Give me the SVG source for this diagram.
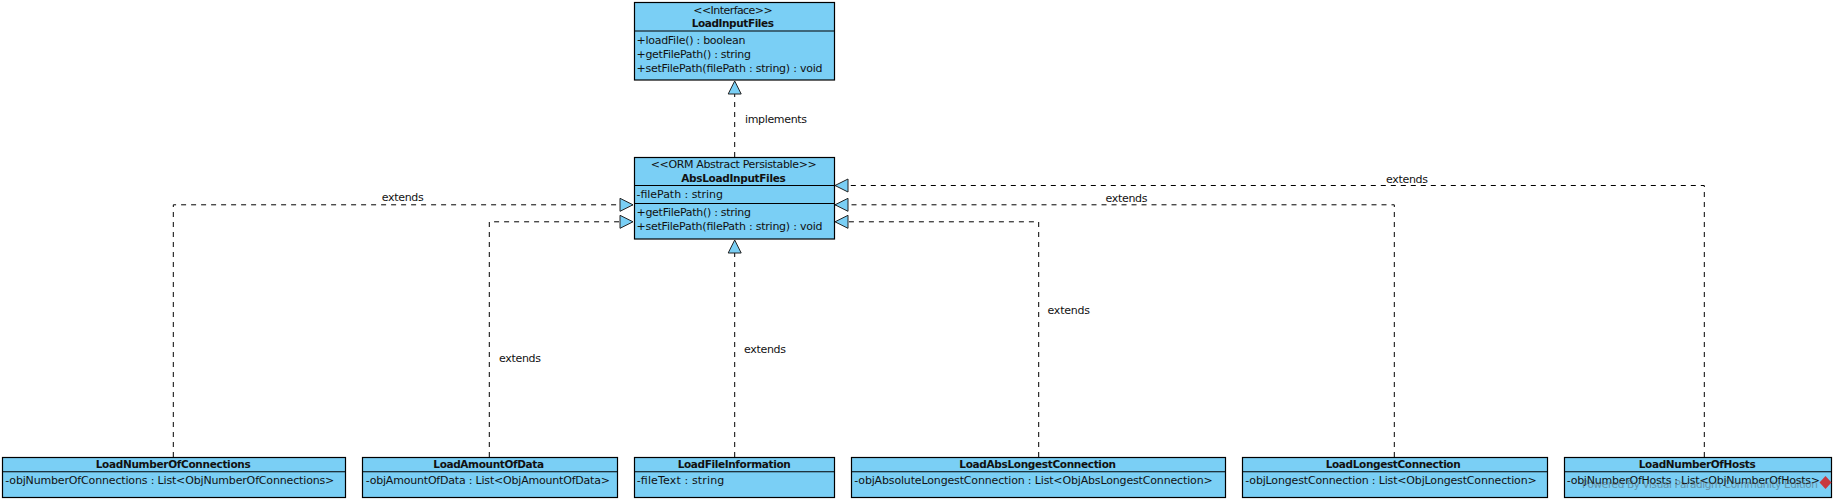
<svg xmlns="http://www.w3.org/2000/svg" width="1837" height="501" viewBox="0 0 1837 501">
<style>
.box{fill:#7ACFF5;stroke:#000;stroke-width:1.2}
.div{stroke:#000;stroke-width:1.1;fill:none}
text{font-family:"DejaVu Sans","Liberation Sans",sans-serif;font-size:11px;fill:#111}
.t{font-weight:bold;font-size:10.5px}
.c{fill:none;stroke:#000;stroke-width:1;stroke-dasharray:5 5;marker-end:url(#tri)}
.wm{fill:#555;opacity:.5;font-size:10.5px}
</style>
<defs>
<marker id="tri" viewBox="-1 -1 15 15" refX="13" refY="6.5" markerWidth="15" markerHeight="15" markerUnits="userSpaceOnUse" orient="auto" overflow="visible">
<path d="M0,0 L13,6.5 L0,13 Z" fill="#7ACFF5" stroke="#222" stroke-width="1"/>
</marker>
</defs>
<rect width="1837" height="501" fill="#fff"/>
<g id="connectors">
<path class="c" d="M734.7,157 V81"/>
<path class="c" d="M173.3,457 V204.8 H633"/>
<path class="c" d="M489.3,457 V221.8 H633"/>
<path class="c" d="M734.7,457 V240"/>
<path class="c" d="M1038.7,457 V221.8 H835"/>
<path class="c" d="M1394.3,457 V204.8 H835"/>
<path class="c" d="M1704.3,457 V185.5 H835"/>
<text x="745" y="122.5" textLength="62">implements</text>
<text x="381.7" y="200.5" textLength="42">extends</text>
<text x="499" y="361.5" textLength="42">extends</text>
<text x="744" y="352.5" textLength="42">extends</text>
<text x="1047.5" y="313.5" textLength="42.5">extends</text>
<text x="1105.5" y="201.5" textLength="42">extends</text>
<text x="1386" y="182.5" textLength="42">extends</text>
</g>
<g id="LoadInputFiles">
<rect class="box" x="634.5" y="2.5" width="200" height="77.5"/>
<path class="div" d="M634.5,31 H834.5"/>
<text x="693.3" y="13.5" textLength="79.4">&lt;&lt;Interface&gt;&gt;</text>
<text class="t" x="691.7" y="27" textLength="82.3">LoadInputFiles</text>
<text x="636.5" y="43.5" textLength="109">+loadFile() : boolean</text>
<text x="636.5" y="57.5" textLength="114.5">+getFilePath() : string</text>
<text x="636.5" y="71.5" textLength="186">+setFilePath(filePath : string) : void</text>
</g>
<g id="AbsLoadInputFiles">
<rect class="box" x="634.5" y="157.5" width="200" height="81.5"/>
<path class="div" d="M634.5,185.5 H834.5 M634.5,203.5 H834.5"/>
<text x="650.7" y="168.2" textLength="166">&lt;&lt;ORM Abstract Persistable&gt;&gt;</text>
<text class="t" x="681.3" y="182.2" textLength="104.4">AbsLoadInputFiles</text>
<text x="636.5" y="198.2" textLength="86.5">-filePath : string</text>
<text x="636.5" y="216.2" textLength="114.5">+getFilePath() : string</text>
<text x="636.5" y="230.2" textLength="186">+setFilePath(filePath : string) : void</text>
</g>
<g id="LoadNumberOfConnections">
<rect class="box" x="2.5" y="457.5" width="343" height="40"/>
<path class="div" d="M2.5,471.7 H345.5"/>
<text class="t" x="95.7" y="468.2" textLength="155">LoadNumberOfConnections</text>
<text x="5.3" y="484" textLength="329">-objNumberOfConnections : List&lt;ObjNumberOfConnections&gt;</text>
</g>
<g id="LoadAmountOfData">
<rect class="box" x="362.5" y="457.5" width="255" height="40"/>
<path class="div" d="M362.5,471.7 H617.5"/>
<text class="t" x="433.3" y="468.2" textLength="110.7">LoadAmountOfData</text>
<text x="365.7" y="484" textLength="244.3">-objAmountOfData : List&lt;ObjAmountOfData&gt;</text>
</g>
<g id="LoadFileInformation">
<rect class="box" x="634.5" y="457.5" width="200" height="40"/>
<path class="div" d="M634.5,471.7 H834.5"/>
<text class="t" x="677.7" y="468.2" textLength="113">LoadFileInformation</text>
<text x="636.7" y="484" textLength="87.6">-fileText : string</text>
</g>
<g id="LoadAbsLongestConnection">
<rect class="box" x="851.5" y="457.5" width="374" height="40"/>
<path class="div" d="M851.5,471.7 H1225.5"/>
<text class="t" x="959.3" y="468.2" textLength="156.7">LoadAbsLongestConnection</text>
<text x="854.3" y="484" textLength="358.4">-objAbsoluteLongestConnection : List&lt;ObjAbsLongestConnection&gt;</text>
</g>
<g id="LoadLongestConnection">
<rect class="box" x="1242.5" y="457.5" width="305" height="40"/>
<path class="div" d="M1242.5,471.7 H1547.5"/>
<text class="t" x="1325.7" y="468.2" textLength="135">LoadLongestConnection</text>
<text x="1245.3" y="484" textLength="291.4">-objLongestConnection : List&lt;ObjLongestConnection&gt;</text>
</g>
<g id="LoadNumberOfHosts">
<rect class="box" x="1564.5" y="457.5" width="267" height="40"/>
<path class="div" d="M1564.5,471.7 H1831.5"/>
<text class="t" x="1638.7" y="468.2" textLength="117">LoadNumberOfHosts</text>
<text x="1566.7" y="484" textLength="253.3">-objNumberOfHosts : List&lt;ObjNumberOfHosts&gt;</text>
</g>
<g id="watermark">
<text class="wm" x="1582" y="487.5" textLength="236">Powered By Visual Paradigm Community Edition</text>
<path d="M1825.5,476 L1831.5,482.5 L1825.5,489 L1819.5,482.5 Z" fill="#c8393f"/>
</g>
</svg>
